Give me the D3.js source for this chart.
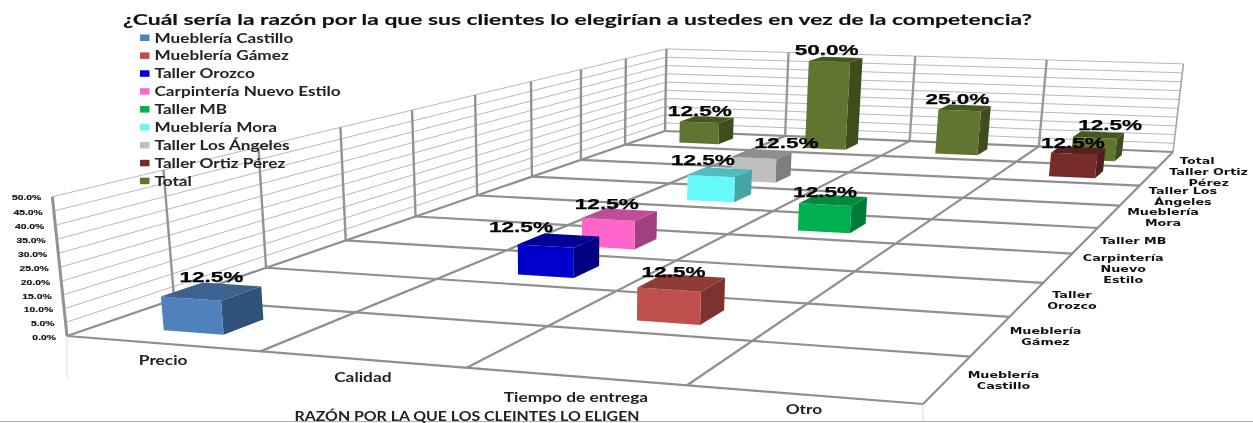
<!DOCTYPE html>
<html><head><meta charset="utf-8">
<script src="https://cdnjs.cloudflare.com/ajax/libs/d3/7.8.5/d3.min.js"></script>
<style>html,body{margin:0;padding:0;background:#fff}svg{display:block;filter:blur(.4px)}</style>
</head><body><svg id="c" width="1253" height="423"></svg>
<script>
const chartTitle = "¿Cuál sería la razón por la que sus clientes lo elegirían a ustedes en vez de la competencia?";
const axisTitle = "RAZÓN POR LA QUE LOS CLEINTES LO ELIGEN";
const categories = ["Precio","Calidad","Tiempo de entrega","Otro"];
const seriesNames = ["Mueblería Castillo","Mueblería Gámez","Taller Orozco","Carpintería Nuevo Estilo","Taller MB","Mueblería Mora","Taller Los Ángeles","Taller Ortiz Pérez","Total"];
const castillo = [0.125,null,null,null];
const gamez    = [null,null,0.125,null];
const orozco   = [null,0.125,null,null];
const carpinteria = [null,0.125,null,null];
const tallerMB = [null,null,0.125,null];
const mora     = [null,0.125,null,null];
const angeles  = [null,0.125,null,null];
const ortiz    = [null,null,null,0.125];
const total    = [0.125,0.5,0.25,0.125];
const seriesValues = [castillo,gamez,orozco,carpinteria,tallerMB,mora,angeles,ortiz,total];
const frontColors = ["#4f81bd","#c0504d","#0000cc","#ff66cc","#00b050","#66f9f9","#bfbfbf","#772c2a","#5f7530"];
const topColors   = ["#3c6290","#8f3c39","#000099","#bf4d99","#008a3e","#4dbdbd","#8f8f8f","#5a2120","#47581f"];
const sideColors  = ["#30527a","#7d3230","#000080","#a04080","#007a38","#45a5a5","#7f7f7f","#521e1d","#3f4d1c"];
const zLabelLines = [["Mueblería","Castillo"],["Mueblería","Gámez"],["Taller","Orozco"],["Carpintería","Nuevo","Estilo"],["Taller MB"],["Mueblería","Mora"],["Taller Los","Ángeles"],["Taller Ortiz","Pérez"],["Total"]];
// layout nudges, kept apart from the data
const zLabelDx = [56,55,45,65,48,54,53,60,32];
const catLabelDy = [16,18,21,15];
const valueLabelNudge = {"0-0":[-1,2],"1-2":[-8,6],"2-1":[-38,3],"3-1":[-13,5],"4-2":[-8,8],"5-1":[-17,4],"6-1":[25,4],"7-3":[-5,8],"8-0":[-7,7],"8-1":[-9,6],"8-2":[-7,7],"8-3":[12,6]};

// camera: where the corners of the chart box fall on the page
const cam = {fl:[67,336],fr:[923,404],br:[1173,152],bl:[665,131],tfl:[52,198],tbl:[667,49],tbr:[1183,63]};

function solve(A,b){const n=b.length;const M=A.map((r,i)=>[...r,b[i]]);
  for(let i=0;i<n;i++){let p=i;for(let j=i+1;j<n;j++)if(Math.abs(M[j][i])>Math.abs(M[p][i]))p=j;[M[i],M[p]]=[M[p],M[i]];
    for(let j=0;j<n;j++){if(j===i)continue;const f=M[j][i]/M[i][i];for(let k=i;k<=n;k++)M[j][k]-=f*M[i][k];}}
  return M.map((r,i)=>r[n]/r[i]);}
const fc=[[0,0,cam.fl],[1,0,cam.fr],[1,1,cam.br],[0,1,cam.bl]];
const A8=[],b8=[];
fc.forEach(([s,t,[u,v]])=>{A8.push([s,t,1,0,0,0,-s*u,-t*u]);b8.push(u);A8.push([0,0,0,s,t,1,-s*v,-t*v]);b8.push(v);});
const H=solve(A8,b8);
const tp=[[0,0,cam.tfl],[0,1,cam.tbl],[1,1,cam.tbr]];
const Av=[],bv=[];
tp.forEach(([s,t,[u,v]])=>{const W=H[6]*s+H[7]*t+1,U=H[0]*s+H[1]*t+H[2],V=H[3]*s+H[4]*t+H[5];
  Av.push([1,0,-u]);bv.push(u*W-U);Av.push([0,1,-v]);bv.push(v*W-V);});
const At=[0,1,2].map(i=>[0,1,2].map(j=>d3.sum(Av,r=>r[i]*r[j])));
const Ab=[0,1,2].map(i=>d3.sum(Av,(r,k)=>r[i]*bv[k]));
const [pu,pv,ps]=solve(At,Ab);
const nX=categories.length,nZ=seriesNames.length;
const sx=d3.scaleLinear().domain([0,nX]).range([0,1]);
const sz=d3.scaleLinear().domain([0,nZ]).range([0,1]);
const y=d3.scaleLinear().domain([0,0.5]).range([0,1]);
function P(x,v,z){const s=sx(x),t=sz(z),h=y(v);const W=H[6]*s+H[7]*t+1+ps*h;
  return [(H[0]*s+H[1]*t+H[2]+pu*h)/W,(H[3]*s+H[4]*t+H[5]+pv*h)/W];}
const bx=d3.scaleBand().domain(categories).range([0,nX]).paddingInner(.685).paddingOuter(.3425).align(.51);
const bz=d3.scaleBand().domain(seriesNames).range([0,nZ]).paddingInner(.6).paddingOuter(.3).align(.467);

const svg=d3.select("#c");
const seg=(g,a,b,c,w)=>g.append("line").attr("x1",a[0]).attr("y1",a[1]).attr("x2",b[0]).attr("y2",b[1]).attr("stroke",c).attr("stroke-width",w);
const poly=(g,pts,c)=>g.append("polygon").attr("points",pts.map(p=>p.map(n=>n.toFixed(2)).join(",")).join(" ")).attr("fill",c);
function label(g,str,px,py,o){const t=g.append("text").attr("x",px).attr("y",py).attr("text-anchor",o.anchor||"middle").attr("dominant-baseline","central")
  .attr("font-family",o.font).attr("font-weight",o.weight||"bold").attr("font-size",o.size).attr("fill",o.fill||"#111").text(str);
  if(o.stroke) t.attr("stroke",o.fill||"#111").attr("stroke-width",o.stroke);
  const w=t.node().getComputedTextLength();t.attr("textLength",o.width||w*o.k).attr("lengthAdjust","spacingAndGlyphs");return t;}

const LATO="Lato, 'Open Sans', sans-serif",ARIAL="'Liberation Sans', Arial, sans-serif",DEJA="'DejaVu Sans', Verdana, sans-serif";
const grid=svg.append("g");
seg(grid,[0,421.5],[1253,421.5],"#b0b0b0",1);
seg(grid,cam.fl,[cam.fl[0],378],"#d8d8d8",1);
seg(grid,cam.fr,[cam.fr[0],421],"#d8d8d8",1);
y.ticks(10).slice(1).forEach(v=>{
  seg(grid,P(0,v,0),P(0,v,nZ),"#b8b8b8",1);
  seg(grid,P(0,v,nZ),P(nX,v,nZ),"#b8b8b8",1);
});
d3.range(0,nZ+1).forEach(z=>seg(grid,P(0,0,z),P(0,0.5,z),"#939393",z===0?3:2.4));
d3.range(1,nX+1).forEach(x=>seg(grid,P(x,0,nZ),P(x,0.5,nZ),x===nX?"#a6a6a6":"#999",x===nX?1.6:2.4));
d3.range(0,nZ+1).forEach(z=>seg(grid,P(0,0,z),P(nX,0,z),"#8f8f8f",2.2));
d3.range(0,nX+1).forEach(x=>seg(grid,P(x,0,0),P(x,0,nZ),"#8f8f8f",2.2));

const bars=svg.append("g");
const labels=[];
d3.range(nZ-1,-1,-1).forEach(si=>{
  categories.forEach((cat,ci)=>{
    const v=seriesValues[si][ci]; if(v==null) return;
    const x0=bx(cat),x1=x0+bx.bandwidth(),z0=bz(seriesNames[si]),z1=z0+bz.bandwidth();
    const g=bars.append("g");
    poly(g,[P(x1,0,z0),P(x1,0,z1),P(x1,v,z1),P(x1,v,z0)],sideColors[si]);
    poly(g,[P(x0,0,z0),P(x1,0,z0),P(x1,v,z0),P(x0,v,z0)],frontColors[si]);
    poly(g,[P(x0,v,z0),P(x1,v,z0),P(x1,v,z1),P(x0,v,z1)],topColors[si]);
    labels.push({v,key:si+"-"+ci,p:P(ci+.5,v,si+.5)});
  });
});
const lab=svg.append("g");
labels.forEach(d=>{const n=valueLabelNudge[d.key];label(lab,d3.format(".1%")(d.v),d.p[0]+n[0],d.p[1]-16+n[1],{font:ARIAL,size:15.5,width:64,fill:"#000",stroke:.25});});

y.ticks(10).forEach(v=>{const p=P(0,v,0);label(svg,d3.format(".1%")(v),p[0]-11,p[1]+1,{font:ARIAL,size:7.5,k:1.38,anchor:"end",fill:"#111",stroke:.15});});
categories.forEach((c,i)=>{const p=P(i+.5,0,0);label(svg,c,p[0]+1,p[1]+catLabelDy[i],{font:LATO,size:13,k:1.33,fill:"#222"});});
zLabelLines.forEach((ls,i)=>{const p=P(nX,0,i+.5);ls.forEach((l,k)=>label(svg,l,p[0]+zLabelDx[i],p[1]+(k-(ls.length-1)/2)*11+1,{font:DEJA,size:8.5,k:1.5,fill:"#111"}));});
label(svg,chartTitle,577.5,19,{font:LATO,size:15.5,width:909,fill:"#111",stroke:.15});
label(svg,axisTitle,467,416,{font:LATO,size:12.5,width:345,fill:"#222"});
const leg=svg.append("g");
seriesNames.forEach((n,i)=>{const yy=37.5+i*17.9;
  leg.append("rect").attr("x",140).attr("y",yy-3).attr("width",9.5).attr("height",6.5).attr("fill",frontColors[i]);
  label(leg,n,154.5,yy,{font:LATO,size:13,k:1.32,anchor:"start",fill:"#222"});});
</script></body></html>
